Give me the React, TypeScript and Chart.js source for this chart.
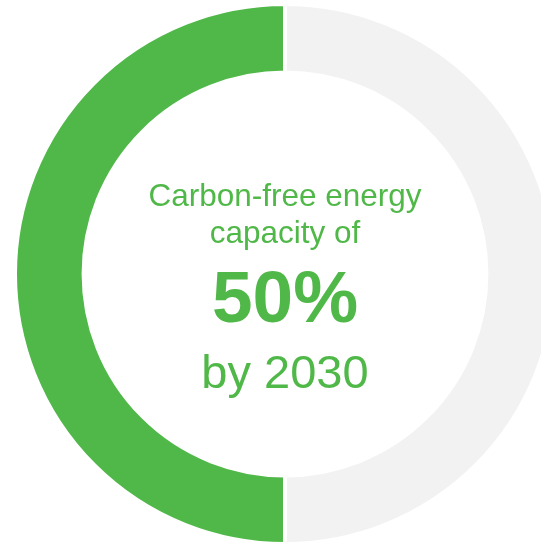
import React, { useEffect, useRef } from "react";
import { Chart, registerables } from "chart.js";

Chart.register(...registerables);

const categories = ["Carbon-free energy capacity", "Remaining"];
const values = [50, 50];
const colors = ["#50B848", "#F2F2F2"];
const centerLines = ["Carbon-free energy", "capacity of", "50%", "by 2030"];

const GREEN = "#50B848";

const centerTextPlugin = {
  id: "centerText",
  afterDraw(chart: any) {
    const meta = chart.getDatasetMeta(0);
    if (!meta || !meta.data.length) return;
    const arc: any = meta.data[0];
    const cx = arc.x;
    const cy = arc.y;
    const ctx = chart.ctx;
    ctx.save();
    ctx.fillStyle = GREEN;
    ctx.textAlign = "center";
    ctx.textBaseline = "alphabetic";
    const fam = '"Liberation Sans", Arial, sans-serif';
    ctx.font = `31.5px ${fam}`;
    ctx.fillText(centerLines[0], cx, cy - 68);
    ctx.fillText(centerLines[1], cx, cy - 31);
    ctx.font = `bold 73px ${fam}`;
    ctx.fillText(centerLines[2], cx, cy + 48);
    ctx.font = `47px ${fam}`;
    ctx.fillText(centerLines[3], cx, cy + 114);
    ctx.restore();
  },
};

export default function App() {
  const ref = useRef<HTMLCanvasElement | null>(null);
  useEffect(() => {
    if (!ref.current) return;
    const chart = new Chart(ref.current, {
      type: "doughnut",
      data: {
        labels: categories,
        datasets: [
          {
            data: values,
            backgroundColor: colors,
            borderColor: "#ffffff",
            borderWidth: 4,
            hoverOffset: 0,
          },
        ],
      },
      options: {
        animation: false,
        responsive: true,
        maintainAspectRatio: false,
        rotation: 180,
        cutout: "74.6%",
        layout: { padding: 0 },
        plugins: {
          legend: { display: false },
          tooltip: { enabled: false },
        },
      },
      plugins: [centerTextPlugin],
    });
    return () => chart.destroy();
  }, []);
  return (
    <div
      style={{
        position: "fixed",
        left: 0,
        top: 0,
        width: 541,
        height: 542,
        overflow: "hidden",
        background: "#ffffff",
      }}
    >
      <div
        style={{
          position: "absolute",
          left: 12.5,
          top: 2,
          width: 544,
          height: 544,
        }}
      >
        <canvas ref={ref} />
      </div>
    </div>
  );
}
